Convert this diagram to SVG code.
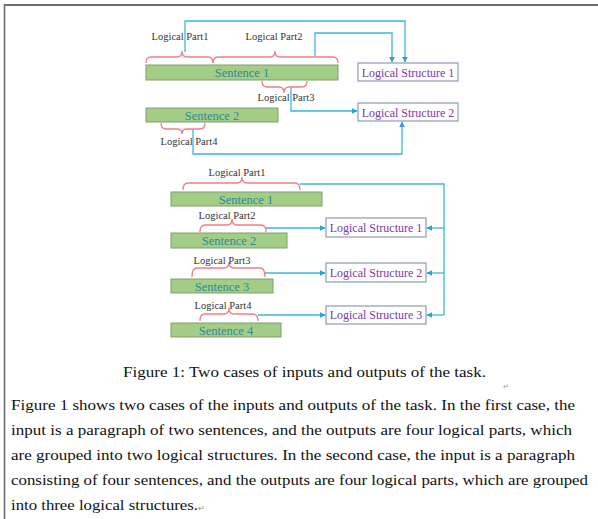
<svg xmlns="http://www.w3.org/2000/svg" width="598" height="519" viewBox="0 0 598 519">
<style>
.sent{fill:#a3cd86;stroke:#7f9f6c;stroke-width:1}
.stxt{font-family:"Liberation Serif",serif;font-size:12.5px;fill:#2f8a9a;text-anchor:middle}
.ls{fill:#fff;stroke:#8d9bb5;stroke-width:1.2}
.lstxt{font-family:"Liberation Serif",serif;font-size:12px;fill:#7a3aa8;text-anchor:middle}
.lp{font-family:"Liberation Serif",serif;font-size:10.5px;fill:#333;text-anchor:middle}
.br{fill:none;stroke:#f07f84;stroke-width:1.3}
.cn{fill:none;stroke:#3db5e3;stroke-width:1.3}
.body{font-family:"Liberation Serif",serif;font-size:14.5px;fill:#111}
</style>
<defs>
<marker id="ar" viewBox="0 0 10 10" refX="9" refY="5" markerWidth="6" markerHeight="6" orient="auto" markerUnits="userSpaceOnUse">
<path d="M0,0 L10,5 L0,10 z" fill="#2a9fd8"/>
</marker>
</defs>
<rect width="598" height="519" fill="#fff"/>
<g id="frame">
<line x1="4.5" y1="5" x2="598" y2="5" stroke="#6e6e6e" stroke-width="2"/>
<line x1="4.5" y1="4" x2="4.5" y2="519" stroke="#6e6e6e" stroke-width="1.6"/>
</g>
<g id="connectors">
<polyline class="cn" points="185,52 185,21 405,21 405,62" marker-end="url(#ar)"/>
<polyline class="cn" points="315,56 315,33 392,33 392,62" marker-end="url(#ar)"/>
<polyline class="cn" points="291,87 291,111 357,111" marker-end="url(#ar)"/>
<polyline class="cn" points="193,129 193,154 402,154 402,122" marker-end="url(#ar)"/>
<polyline class="cn" points="300,184 444,184 444,315"/>
<line class="cn" x1="444" y1="228" x2="427" y2="228" marker-end="url(#ar)"/>
<line class="cn" x1="444" y1="273" x2="427" y2="273" marker-end="url(#ar)"/>
<line class="cn" x1="444" y1="315" x2="427" y2="315" marker-end="url(#ar)"/>
<line class="cn" x1="266" y1="228" x2="325" y2="228" marker-end="url(#ar)"/>
<line class="cn" x1="265" y1="273" x2="325" y2="273" marker-end="url(#ar)"/>
<line class="cn" x1="258" y1="315" x2="325" y2="315" marker-end="url(#ar)"/>
</g>
<g id="top-sentence1">
<rect class="sent" x="146" y="65" width="192" height="15"/>
<text class="stxt" x="242" y="77">Sentence 1</text>
</g>
<g id="top-sentence2">
<rect class="sent" x="146" y="108" width="132" height="14"/>
<text class="stxt" x="212" y="119.5">Sentence 2</text>
</g>
<g id="top-lp1">
<path class="br" d="M146,63 Q146,57 151,57 H177 Q182,57 182,51 Q182,57 187,57 H208 Q213,57 213,63"/>
<text class="lp" x="180" y="40">Logical Part1</text>
</g>
<g id="top-lp2">
<path class="br" d="M213,63 Q213,57 218,57 H270 Q275,57 275,51 Q275,57 280,57 H333 Q338,57 338,63"/>
<text class="lp" x="274" y="40">Logical Part2</text>
</g>
<g id="top-lp3">
<path class="br" d="M262,81 Q262,87 267,87 H279 Q284,87 284,93 Q284,87 289,87 H302 Q307,87 307,81"/>
<text class="lp" x="286" y="101">Logical Part3</text>
</g>
<g id="top-lp4">
<path class="br" d="M161,123 Q161,129 166,129 H177 Q182,129 182,134 Q182,129 187,129 H200 Q205,129 205,123"/>
<text class="lp" x="189" y="145">Logical Part4</text>
</g>
<g id="top-ls1">
<rect class="ls" x="358" y="63" width="100" height="18"/>
<text class="lstxt" x="408" y="76.5">Logical Structure 1</text>
</g>
<g id="top-ls2">
<rect class="ls" x="358" y="103" width="100" height="18"/>
<text class="lstxt" x="408" y="116.5">Logical Structure 2</text>
</g>
<g id="bot-sentence1">
<rect class="sent" x="171" y="192" width="151" height="14"/>
<text class="stxt" x="246" y="203.5">Sentence 1</text>
</g>
<g id="bot-sentence2">
<rect class="sent" x="171" y="233" width="116" height="15"/>
<text class="stxt" x="229" y="245">Sentence 2</text>
</g>
<g id="bot-sentence3">
<rect class="sent" x="171" y="279" width="102" height="14"/>
<text class="stxt" x="222" y="290.5">Sentence 3</text>
</g>
<g id="bot-sentence4">
<rect class="sent" x="171" y="323" width="110" height="14"/>
<text class="stxt" x="226" y="334.5">Sentence 4</text>
</g>
<g id="bot-lp1">
<path class="br" d="M183,190 Q183,183 188,183 H237 Q242,183 242,177 Q242,183 247,183 H295 Q300,183 300,190"/>
<text class="lp" x="237" y="176">Logical Part1</text>
</g>
<g id="bot-lp2">
<path class="br" d="M200,232 Q200,225 205,225 H227 Q232,225 232,219 Q232,225 237,225 H261 Q266,225 266,232"/>
<text class="lp" x="227" y="219">Logical Part2</text>
</g>
<g id="bot-lp3">
<path class="br" d="M192,277 Q192,268 197,268 H224 Q229,268 229,262 Q229,268 234,268 H260 Q265,268 265,277"/>
<text class="lp" x="222" y="264">Logical Part3</text>
</g>
<g id="bot-lp4">
<path class="br" d="M200,321 Q200,314 205,314 H224 Q229,314 229,308 Q229,314 234,314 H253 Q258,314 258,321"/>
<text class="lp" x="223" y="309">Logical Part4</text>
</g>
<g id="bot-ls1">
<rect class="ls" x="326" y="218" width="100" height="19"/>
<text class="lstxt" x="376" y="231.5">Logical Structure 1</text>
</g>
<g id="bot-ls2">
<rect class="ls" x="326" y="263" width="100" height="19"/>
<text class="lstxt" x="376" y="276.5">Logical Structure 2</text>
</g>
<g id="bot-ls3">
<rect class="ls" x="326" y="306" width="100" height="18"/>
<text class="lstxt" x="376" y="319">Logical Structure 3</text>
</g>
<g id="caption">
<text style="font-family:'Liberation Serif',serif;font-size:15px;fill:#111" x="123" y="377" textLength="363" lengthAdjust="spacingAndGlyphs">Figure 1: Two cases of inputs and outputs of the task.</text>
<text style="font-family:'Liberation Serif',serif;font-size:7px;fill:#999" x="503" y="389">↵</text>
</g>
<g id="paragraph">
<text class="body" x="11" y="410" textLength="564" lengthAdjust="spacingAndGlyphs">Figure 1 shows two cases of the inputs and outputs of the task. In the first case, the</text>
<text class="body" x="11" y="435" textLength="561" lengthAdjust="spacingAndGlyphs">input is a paragraph of two sentences, and the outputs are four logical parts, which</text>
<text class="body" x="11" y="460" textLength="564" lengthAdjust="spacingAndGlyphs">are grouped into two logical structures. In the second case, the input is a paragraph</text>
<text class="body" x="11" y="485" textLength="577" lengthAdjust="spacingAndGlyphs">consisting of four sentences, and the outputs are four logical parts, which are grouped</text>
<text class="body" x="11" y="510" textLength="187" lengthAdjust="spacingAndGlyphs">into three logical structures.</text>
<text style="font-family:'Liberation Serif',serif;font-size:8px;fill:#888" x="198" y="511">↵</text>
</g>
</svg>
